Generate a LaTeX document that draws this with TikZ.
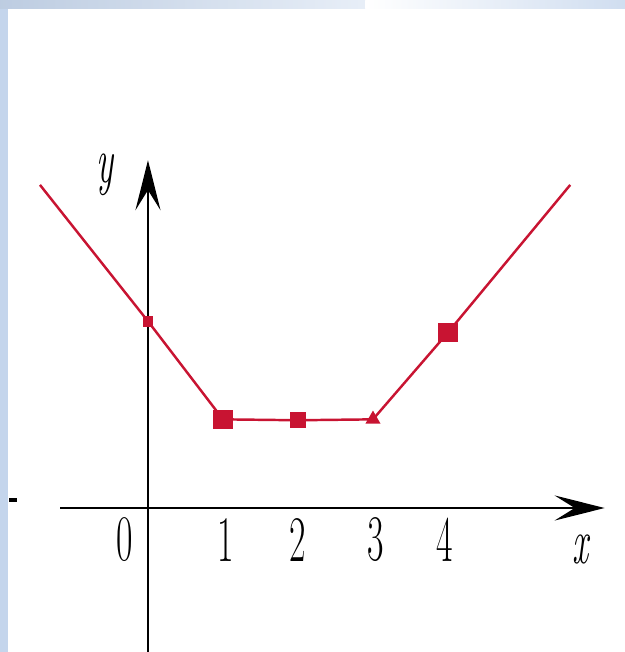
\documentclass[tikz,border=0pt]{standalone}
\usepackage{fontspec}
\usetikzlibrary{arrows.meta,shapes.geometric}
\definecolor{graphred}{RGB}{200,20,50}
\definecolor{slideblue}{RGB}{196,213,236}
\tikzset{lab/.style={font=\fontsize{37}{40}\selectfont, xscale=0.55, transform shape, inner sep=0pt},
  dot/.style={rectangle, fill=graphred, inner sep=0pt, minimum size=#1}}

\begin{document}
\begin{tikzpicture}[x=1.5cm, y=0.9cm]
        \useasboundingbox (-1.973,-3.2) rectangle (6.36,11.289);
        % slide border
        \fill[slideblue] (-1.973,-3.2) rectangle (-1.867,11.289);
        \shade[left color=slideblue!90!gray, right color=slideblue!40] (-1.973,11.111) rectangle (2.9,11.289);
        \shade[left color=white, right color=slideblue!80] (2.9,11.111) rectangle (6.36,11.289);
        \draw[line width=2.5pt] (-1.85,0.18) -- (-1.75,0.18);
        % axes
        \coordinate (xs) at (-1.17,0); \coordinate (xe) at (6.09,0);
        \coordinate (ys) at (0,-3.2); \coordinate (ye) at (0,7.73);
        \draw[line width=1.6pt, -{Stealth[length=10mm, width=5mm, inset=4mm]}] (xs) -- (xe);
        \draw[line width=1.6pt, -{Stealth[length=10mm, width=5mm, inset=4mm]}] (ys) -- (ye);
        \node[lab] (o) at (-0.31,-0.71) {0};
        \node[lab] (t1) at (1.03,-0.71) {1};
        \node[lab] (t2) at (1.99,-0.71) {2};
        \node[lab] (t3) at (3.03,-0.71) {3};
        \node[lab] (t4) at (3.96,-0.71) {4};
        \node[lab] (xl) at (5.77,-0.93) {\itshape x};
        \node[lab] (yl) at (-0.57,7.4) {\itshape y};
        % graph
        \coordinate (L) at (-1.44,7.18);
        \coordinate (R) at (5.63,7.18);
        \node[dot=6pt] (A) at (0,4.15) {};
        \node[dot=11pt] (B) at (1,1.97) {};
        \node[dot=9pt] (C) at (2,1.95) {};
        \node[regular polygon, regular polygon sides=3, fill=graphred, inner sep=0pt, minimum size=10pt] (D) at (3,1.97) {};
        \node[dot=11pt] (E) at (4,3.9) {};
        \draw[graphred, line width=1.4pt] (L) -- (A.center) -- (B.center) -- (C.center) -- (D.center) -- (E.center) -- (R);
    \end{tikzpicture}
\end{document}
